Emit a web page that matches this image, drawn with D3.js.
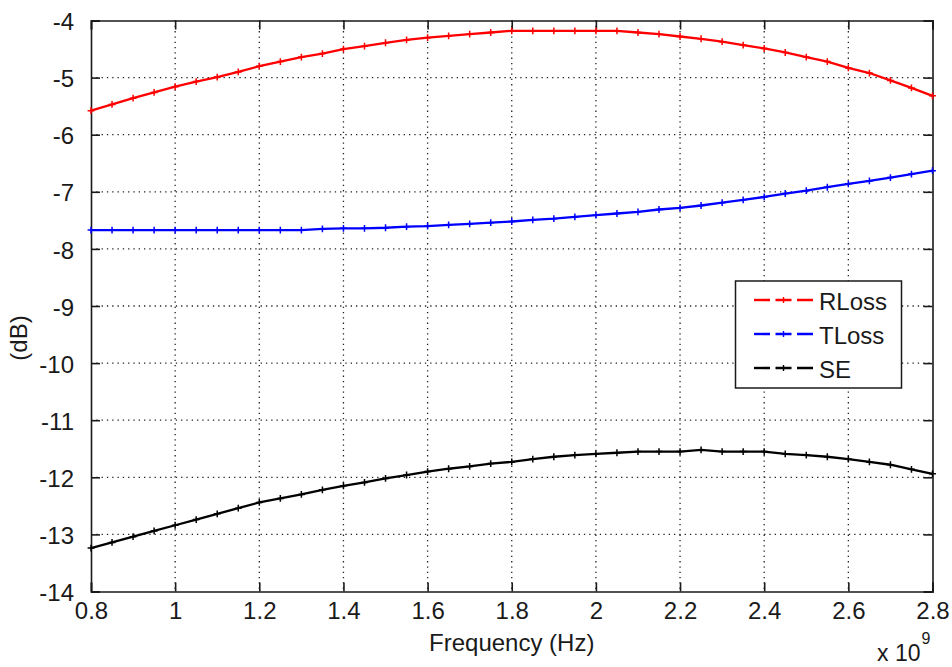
<!DOCTYPE html>
<html>
<head>
<meta charset="utf-8">
<script src="https://cdn.jsdelivr.net/npm/d3@7"></script>
<style>
  html, body { margin: 0; padding: 0; background: #fff; }
  svg { display: block; }
  text { font-family: "Liberation Sans", Arial, sans-serif; fill: #1a1a1a; }
</style>
</head>
<body>
<script>
// ---- data (frequency in units of 1e9 Hz) ----
const freq = [0.80,0.85,0.90,0.95,1.00,1.05,1.10,1.15,1.20,1.25,1.30,1.35,1.40,1.45,1.50,1.55,1.60,1.65,1.70,1.75,1.80,
              1.85,1.90,1.95,2.00,2.05,2.10,2.15,2.20,2.25,2.30,2.35,2.40,2.45,2.50,2.55,2.60,2.65,2.70,2.75,2.80];
const rloss = [-5.58,-5.47,-5.36,-5.26,-5.16,-5.07,-4.99,-4.90,-4.80,-4.72,-4.64,-4.58,-4.50,-4.45,-4.39,-4.34,-4.30,-4.27,-4.24,-4.21,-4.18,
               -4.18,-4.18,-4.18,-4.18,-4.18,-4.21,-4.24,-4.28,-4.32,-4.37,-4.43,-4.49,-4.56,-4.64,-4.72,-4.83,-4.92,-5.05,-5.18,-5.32];
const tloss = [-7.67,-7.67,-7.67,-7.67,-7.67,-7.67,-7.67,-7.67,-7.67,-7.67,-7.67,-7.65,-7.64,-7.64,-7.63,-7.61,-7.60,-7.58,-7.56,-7.54,-7.52,
               -7.49,-7.47,-7.44,-7.41,-7.38,-7.35,-7.31,-7.28,-7.24,-7.19,-7.14,-7.09,-7.03,-6.98,-6.92,-6.86,-6.81,-6.75,-6.69,-6.63];
const se = [-13.24,-13.14,-13.04,-12.94,-12.84,-12.74,-12.64,-12.54,-12.44,-12.37,-12.30,-12.22,-12.15,-12.09,-12.02,-11.96,-11.90,-11.85,-11.81,-11.76,-11.73,
            -11.68,-11.64,-11.61,-11.59,-11.57,-11.55,-11.55,-11.55,-11.52,-11.55,-11.55,-11.55,-11.59,-11.61,-11.64,-11.68,-11.73,-11.78,-11.86,-11.94];
const seriesNames = ["RLoss", "TLoss", "SE"];
const seriesColors = ["#ff0000", "#0000ff", "#000000"];
const xTicks = [0.8,1.0,1.2,1.4,1.6,1.8,2.0,2.2,2.4,2.6,2.8];
const yTicks = [-4,-5,-6,-7,-8,-9,-10,-11,-12,-13,-14];
const xLabel = "Frequency (Hz)";
const yLabel = "(dB)";

const series = [rloss, tloss, se].map((vals, i) => ({
  name: seriesNames[i], color: seriesColors[i],
  points: vals.map((v, j) => ({ x: freq[j], y: v }))
}));

// ---- layout ----
const W = 952, H = 667;
const L = 91, R = 932.5, T = 20.5, B = 591.5;

const svg = d3.select("body").append("svg").attr("width", W).attr("height", H);

const x = d3.scaleLinear().domain([0.8, 2.8]).range([L, R]);
const y = d3.scaleLinear().domain([-14, -4]).range([B, T]);
const fmt = d => String(+d.toFixed(1));   // plain hyphen-minus, like MATLAB

// grid
const grid = svg.append("g").attr("stroke", "#222").attr("stroke-width", 1.3)
  .attr("stroke-dasharray", "1.3,4").attr("fill", "none");
grid.selectAll(".gx").data(xTicks.slice(1, -1)).join("line")
  .attr("x1", d => x(d)).attr("x2", d => x(d)).attr("y1", T).attr("y2", B);
grid.selectAll(".gy").data(yTicks.slice(1, -1)).join("line")
  .attr("y1", d => y(d)).attr("y2", d => y(d)).attr("x1", L).attr("x2", R);

// axes (ticks inward, on all four sides)
const tickLen = 9;
const axB = svg.append("g").attr("transform", `translate(0,${B})`)
  .call(d3.axisBottom(x).tickValues(xTicks).tickFormat(fmt).tickSize(-tickLen).tickPadding(14));
const axT = svg.append("g").attr("transform", `translate(0,${T})`)
  .call(d3.axisTop(x).tickValues(xTicks).tickFormat("").tickSize(-tickLen));
const axL = svg.append("g").attr("transform", `translate(${L},0)`)
  .call(d3.axisLeft(y).tickValues(yTicks).tickFormat(fmt).tickSize(-tickLen).tickPadding(17));
const axR = svg.append("g").attr("transform", `translate(${R},0)`)
  .call(d3.axisRight(y).tickValues(yTicks).tickFormat("").tickSize(-tickLen));
[axB, axT, axL, axR].forEach(a => {
  a.select(".domain").attr("stroke", "#1a1a1a").attr("stroke-width", 1.6);
  a.selectAll(".tick line").attr("stroke", "#1a1a1a").attr("stroke-width", 1.6);
  a.selectAll(".tick text").attr("font-size", 24).attr("fill", "#1a1a1a")
    .attr("font-family", "'Liberation Sans', Arial, sans-serif");
});
axB.selectAll(".tick text").attr("dy", "0.55em");
axL.selectAll(".tick text").attr("dy", "0.38em");

// series lines with + markers
const line = d3.line().x(d => x(d.x)).y(d => y(d.y));
const plot = svg.append("g");
series.forEach(s => {
  plot.append("path").datum(s.points).attr("d", line)
    .attr("fill", "none").attr("stroke", s.color).attr("stroke-width", 2.3);
  const m = 3.4;
  plot.append("g").selectAll("path").data(s.points).join("path")
    .attr("d", d => `M${x(d.x) - m},${y(d.y)}H${x(d.x) + m}M${x(d.x)},${y(d.y) - m}V${y(d.y) + m}`)
    .attr("stroke", s.color).attr("stroke-width", 1.5).attr("fill", "none");
});

// axis labels
svg.append("text").attr("x", (L + R) / 2).attr("y", 651).attr("text-anchor", "middle")
  .attr("font-size", 24).text(xLabel);
svg.append("text").attr("transform", `translate(27,338) rotate(-90)`).attr("text-anchor", "middle")
  .attr("font-size", 24).text(yLabel);
const ex = svg.append("text").attr("x", 877).attr("y", 661).attr("font-size", 23);
ex.append("tspan").text("x 10");
ex.append("tspan").attr("font-size", 16).attr("dy", -17).attr("dx", 1).text("9");

// legend
const lg = svg.append("g");
lg.append("rect").attr("x", 735.5).attr("y", 281).attr("width", 166).attr("height", 107)
  .attr("fill", "#fff").attr("stroke", "#1a1a1a").attr("stroke-width", 1.5);
const legY = [300, 334, 368];
series.forEach((s, i) => {
  const gy = legY[i];
  lg.append("line").attr("x1", 754).attr("x2", 813).attr("y1", gy).attr("y2", gy)
    .attr("stroke", s.color).attr("stroke-width", 2.4).attr("stroke-dasharray", "16,5.5");
  lg.append("path").attr("d", `M783.5,${gy - 3}V${gy + 3}`).attr("stroke", s.color).attr("stroke-width", 1.4);
  lg.append("text").attr("x", 819).attr("y", gy + 10).attr("font-size", 24).text(s.name);
});
</script>
</body>
</html>
